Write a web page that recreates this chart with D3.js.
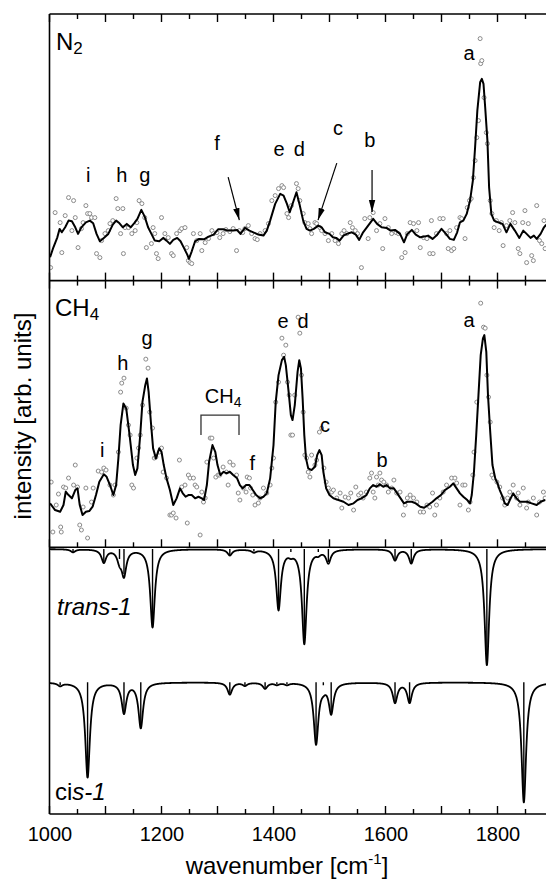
<!DOCTYPE html>
<html><head><meta charset="utf-8">
<script src="https://cdn.jsdelivr.net/npm/d3@7"></script>
<style>
html,body{margin:0;padding:0;background:#fff;}
svg{display:block;}
text{font-family:Arial,"Liberation Sans",sans-serif;fill:#000;}
</style></head><body>
<svg id="c" width="546" height="888"></svg>
<script>
// ---------------- DATA ----------------
// x axis
const tickLabels = [1000, 1200, 1400, 1600, 1800];
const majorTicks = [1000, 1100, 1200, 1300, 1400, 1500, 1600, 1700, 1800, 1900];
const minorTicks = [1050, 1150, 1250, 1350, 1450, 1550, 1650, 1750, 1850];

// N2 matrix: smoothed spectrum [wavenumber, intensity]
const n2Line = [[1001,2.33],[1007,3.33],[1014,4.33],[1018,5.17],[1022,4.83],[1028,5.33],[1034,6.0],[1040,5.93],[1046,5.33],[1051,4.67],[1057,5.33],[1065,5.83],[1072,6.0],[1078,5.73],[1084,4.67],[1090,3.93],[1097,4.27],[1105,4.67],[1113,5.6],[1119,6.0],[1125,5.73],[1131,5.33],[1138,5.67],[1145,5.33],[1151,5.73],[1157,6.17],[1164,7.07],[1170,6.4],[1176,5.33],[1182,4.67],[1188,4.0],[1196,3.93],[1203,4.27],[1209,4.0],[1215,3.67],[1221,4.07],[1228,4.27],[1234,3.93],[1240,3.27],[1246,2.6],[1249,2.17],[1254,2.93],[1260,3.93],[1267,4.17],[1276,4.13],[1284,4.4],[1293,4.6],[1301,5.13],[1310,5.13],[1319,5.0],[1328,5.0],[1335,5.07],[1341,4.67],[1349,5.27],[1357,5.0],[1364,4.83],[1373,4.6],[1382,4.5],[1388,5.0],[1394,6.0],[1403,7.67],[1412,8.67],[1418,8.5],[1424,7.67],[1429,6.83],[1435,7.83],[1441,8.83],[1447,7.5],[1453,6.0],[1459,5.17],[1465,5.0],[1472,5.17],[1480,5.5],[1486,5.33],[1492,4.83],[1500,4.67],[1506,4.33],[1512,4.27],[1518,4.0],[1525,4.5],[1531,4.67],[1540,4.83],[1547,4.6],[1553,4.07],[1560,4.83],[1569,5.5],[1578,6.17],[1585,5.67],[1593,5.33],[1602,5.27],[1609,5.0],[1617,5.07],[1626,4.67],[1633,3.83],[1639,4.67],[1647,5.07],[1654,4.6],[1662,4.33],[1669,4.4],[1676,4.5],[1684,4.17],[1691,4.5],[1700,5.17],[1708,4.67],[1715,4.17],[1722,4.07],[1728,4.83],[1733,5.83],[1739,6.0],[1745,6.67],[1751,8.0],[1756,10.0],[1760,13.33],[1764,17.0],[1769,19.83],[1772,20.17],[1775,19.67],[1778,17.33],[1782,14.0],[1785,9.33],[1789,6.67],[1794,6.0],[1801,5.83],[1809,5.67],[1816,4.83],[1823,5.67],[1831,5.0],[1839,4.27],[1846,5.0],[1852,4.67],[1859,4.27],[1865,4.5],[1870,4.17],[1877,4.67],[1883,5.33],[1887,5.6]];

// N2 matrix: raw data points
const n2Points = [[1002,1.3],[1010,6.8],[1019,5.8],[1022,2.8],[1028,6.5],[1034,8.3],[1043,8.0],[1040,5.0],[1046,6.3],[1051,3.3],[1057,5.2],[1060,5.8],[1065,7.5],[1068,6.7],[1072,6.7],[1075,6.3],[1081,6.3],[1084,2.7],[1090,2.3],[1093,4.0],[1099,4.7],[1105,5.0],[1108,5.7],[1113,6.0],[1119,8.2],[1122,7.2],[1127,4.7],[1131,7.2],[1132,2.7],[1135,5.3],[1141,5.3],[1147,4.7],[1153,5.0],[1156,5.8],[1160,8.0],[1165,7.7],[1170,6.3],[1173,3.3],[1182,3.7],[1185,5.3],[1188,4.7],[1191,2.7],[1194,2.2],[1200,6.3],[1206,4.7],[1212,4.3],[1218,2.7],[1221,2.5],[1227,4.7],[1233,5.0],[1236,5.2],[1242,5.3],[1245,3.3],[1248,2.0],[1251,1.8],[1254,1.7],[1257,4.7],[1263,4.0],[1269,4.7],[1272,3.0],[1278,3.8],[1284,4.2],[1290,5.0],[1293,4.7],[1299,4.8],[1304,4.3],[1310,4.7],[1315,5.1],[1322,4.9],[1328,5.2],[1334,3.0],[1339,5.0],[1345,4.8],[1349,5.2],[1355,5.5],[1361,4.7],[1367,4.2],[1371,4.1],[1376,4.7],[1385,5.0],[1391,5.7],[1397,8.0],[1403,8.5],[1409,9.2],[1415,9.5],[1418,9.3],[1424,6.7],[1427,6.3],[1432,7.5],[1441,9.7],[1444,9.2],[1447,8.0],[1453,6.7],[1456,5.8],[1462,5.7],[1465,5.2],[1468,4.7],[1474,5.8],[1477,5.7],[1483,5.3],[1486,5.0],[1492,4.7],[1498,4.0],[1504,4.7],[1510,4.0],[1516,3.7],[1522,4.7],[1526,5.0],[1531,4.7],[1537,5.8],[1541,5.3],[1546,5.0],[1550,4.7],[1557,1.3],[1563,6.2],[1569,4.2],[1572,6.3],[1578,6.8],[1584,5.0],[1590,5.7],[1595,3.2],[1599,6.2],[1605,5.3],[1611,4.7],[1619,4.8],[1623,4.7],[1629,2.3],[1635,2.8],[1639,4.7],[1644,5.8],[1650,5.7],[1656,5.0],[1659,5.8],[1662,3.3],[1668,4.3],[1674,4.2],[1679,2.7],[1682,6.0],[1685,2.7],[1691,4.7],[1697,6.2],[1703,6.2],[1709,4.7],[1712,3.2],[1715,5.0],[1718,3.0],[1722,3.2],[1727,5.3],[1733,6.3],[1736,6.2],[1742,4.2],[1746,7.3],[1750,8.0],[1753,8.2],[1757,10.3],[1760,12.0],[1763,14.3],[1766,16.0],[1769,24.2],[1770,21.7],[1772,22.0],[1776,18.3],[1780,14.8],[1782,13.7],[1787,8.0],[1790,6.7],[1794,5.3],[1798,6.0],[1803,5.0],[1807,5.8],[1810,3.5],[1816,5.5],[1822,6.0],[1827,6.8],[1831,5.8],[1837,3.2],[1840,2.7],[1845,5.8],[1849,7.0],[1852,1.8],[1855,5.7],[1861,2.5],[1864,2.0],[1870,7.5],[1875,4.0],[1879,3.7],[1883,6.0],[1885,3.2]];

// CH4 matrix: smoothed spectrum
const ch4Line = [[1001,4.37],[1010,3.7],[1019,3.53],[1025,4.2],[1029,5.53],[1034,5.2],[1040,4.87],[1046,5.7],[1050,5.87],[1054,4.2],[1059,3.2],[1065,3.53],[1071,3.6],[1077,4.03],[1083,5.2],[1089,6.53],[1097,7.27],[1102,7.03],[1108,6.2],[1114,5.2],[1119,6.2],[1123,8.87],[1127,12.2],[1132,14.37],[1137,13.87],[1143,11.2],[1149,8.2],[1153,7.2],[1157,7.87],[1162,11.2],[1166,14.53],[1171,16.2],[1174,16.87],[1177,15.53],[1181,12.53],[1185,9.87],[1190,8.87],[1196,9.87],[1200,9.53],[1204,8.2],[1209,6.87],[1215,5.7],[1221,4.2],[1227,4.87],[1233,5.87],[1238,5.37],[1243,5.03],[1248,5.2],[1254,5.2],[1260,4.87],[1266,5.03],[1272,4.87],[1276,4.7],[1281,6.2],[1285,8.53],[1291,10.2],[1296,9.53],[1300,8.2],[1305,7.2],[1311,7.53],[1316,7.37],[1322,7.53],[1328,7.2],[1335,6.87],[1340,6.2],[1345,5.87],[1351,6.2],[1357,6.2],[1363,5.7],[1369,5.2],[1376,4.87],[1382,5.03],[1388,5.37],[1394,6.87],[1400,10.2],[1404,14.53],[1409,17.2],[1415,18.7],[1419,19.03],[1422,18.2],[1427,15.53],[1431,13.2],[1434,12.7],[1438,14.2],[1443,17.53],[1446,18.7],[1449,17.87],[1452,14.87],[1455,11.2],[1458,8.87],[1462,7.87],[1468,7.7],[1474,8.03],[1478,9.2],[1482,9.7],[1486,9.2],[1489,7.53],[1494,5.87],[1500,5.2],[1507,4.87],[1516,4.7],[1525,4.53],[1534,4.2],[1543,4.37],[1550,4.7],[1557,4.87],[1566,5.2],[1572,5.87],[1578,6.2],[1584,6.03],[1590,6.27],[1596,6.03],[1602,6.2],[1608,5.87],[1615,5.87],[1621,5.37],[1627,4.87],[1633,4.37],[1639,4.53],[1647,4.53],[1654,4.37],[1662,4.03],[1669,3.93],[1676,4.2],[1684,4.53],[1691,4.87],[1699,5.2],[1706,5.7],[1715,6.03],[1721,6.37],[1727,5.87],[1733,5.37],[1739,5.03],[1746,4.7],[1751,4.37],[1754,5.2],[1758,7.53],[1762,11.2],[1766,15.2],[1770,19.2],[1774,20.87],[1776.5,21.2],[1780,19.53],[1783,15.2],[1787,11.53],[1791,8.2],[1796,6.87],[1800,6.37],[1804,5.7],[1809,5.03],[1813,4.37],[1818,4.2],[1822,4.7],[1828,5.37],[1834,4.87],[1840,4.53],[1846,4.53],[1853,4.53],[1861,4.37],[1870,4.2],[1877,4.53],[1885,4.7]];

// CH4 matrix: raw data points
const ch4Points = [[1003,6.5],[1006,1.5],[1012,4.2],[1016,5.3],[1020,2.0],[1021,1.5],[1025,6.0],[1029,5.9],[1034,6.9],[1043,6.2],[1046,8.2],[1050,6.0],[1054,2.2],[1057,1.7],[1060,4.0],[1065,5.9],[1068,0.9],[1075,4.5],[1078,5.9],[1087,7.6],[1093,7.5],[1097,7.9],[1101,7.7],[1108,6.2],[1114,5.2],[1117,6.2],[1123,9.5],[1127,15.5],[1129,16.4],[1133,16.9],[1137,13.9],[1141,12.2],[1144,11.2],[1147,6.2],[1150,5.9],[1156,8.9],[1159,9.9],[1162,11.2],[1166,14.2],[1172,18.8],[1176,17.9],[1179,13.5],[1184,11.9],[1187,8.9],[1190,9.0],[1196,9.5],[1200,9.9],[1203,7.5],[1209,6.9],[1215,3.2],[1218,3.2],[1221,3.4],[1226,2.9],[1232,8.7],[1236,6.0],[1242,6.2],[1246,2.4],[1248,7.2],[1251,6.9],[1257,6.9],[1260,6.2],[1263,6.0],[1269,1.2],[1272,5.5],[1275,4.5],[1278,4.9],[1281,8.5],[1287,10.9],[1290,10.9],[1293,8.9],[1297,7.0],[1301,7.2],[1304,7.2],[1310,8.0],[1316,7.5],[1319,6.2],[1322,8.5],[1328,8.2],[1334,7.2],[1337,5.4],[1340,4.7],[1346,5.9],[1351,5.5],[1353,7.0],[1357,6.9],[1359,5.9],[1363,5.2],[1367,4.2],[1373,4.4],[1376,4.9],[1382,5.9],[1388,5.4],[1394,6.2],[1397,7.9],[1400,8.9],[1404,14.5],[1409,16.5],[1415,20.9],[1418,19.2],[1422,20.2],[1425,16.5],[1428,15.2],[1431,11.2],[1434,11.2],[1438,15.2],[1444,23.0],[1447,21.4],[1450,17.2],[1453,13.5],[1456,9.2],[1459,8.9],[1462,7.5],[1465,7.0],[1468,9.2],[1474,8.2],[1477,8.7],[1482,11.5],[1486,11.9],[1490,7.9],[1494,6.5],[1498,5.9],[1504,5.5],[1507,5.7],[1513,4.9],[1519,5.4],[1522,3.9],[1528,5.0],[1534,4.9],[1538,5.4],[1543,3.7],[1547,6.0],[1552,5.2],[1556,5.4],[1560,4.9],[1566,5.5],[1572,6.9],[1575,7.4],[1578,5.5],[1581,4.9],[1584,7.0],[1587,6.2],[1590,7.4],[1593,6.7],[1597,6.5],[1602,6.2],[1605,5.5],[1611,5.9],[1615,6.7],[1620,5.4],[1626,5.5],[1632,3.2],[1635,4.2],[1639,4.9],[1644,5.2],[1650,4.9],[1656,4.5],[1662,3.5],[1668,3.5],[1674,4.2],[1679,4.0],[1684,5.4],[1688,3.2],[1691,4.2],[1697,4.9],[1703,5.5],[1709,6.2],[1718,6.9],[1724,6.9],[1727,6.4],[1733,4.2],[1738,6.2],[1742,6.2],[1748,3.7],[1751,4.5],[1756,7.2],[1758,9.5],[1763,14.5],[1770,24.4],[1775,22.0],[1778,21.9],[1781,17.2],[1784,15.0],[1787,12.5],[1790,7.2],[1793,6.9],[1799,6.5],[1804,6.0],[1809,4.9],[1813,4.2],[1818,4.9],[1822,5.5],[1828,6.2],[1834,4.9],[1837,5.4],[1840,4.2],[1846,5.9],[1852,3.9],[1855,4.5],[1864,4.9],[1870,3.2],[1875,4.5],[1882,5.5],[1885,4.9]];

// computed stick spectra [wavenumber, intensity]
const transPeaks = [[1042,0.3],[1097,1.3],[1125,1.0],[1133,2.5],[1184,7.8],[1322,0.6],[1365,0.25],[1409,6.0],[1431,0.3],[1455,9.4],[1480,0.3],[1498,1.3],[1617,1.1],[1646,1.4],[1781,11.6]];
const cisPeaks = [[1019,0.3],[1068,9.5],[1133,3.0],[1163,4.5],[1322,1.2],[1349,0.3],[1385,0.6],[1406,0.2],[1424,0.2],[1476,6.1],[1489,0.3],[1503,3.0],[1617,2.0],[1643,2.0],[1847,12.0]];
const lorentzHalfWidth = 5; // cm-1, broadening of computed sticks

// peak labels [label, wavenumber, intensity]
const n2Labels = [["i",1069,9.85],["h",1129,9.85],["g",1170,9.85],["f",1299,13.05],["e",1410,12.45],["d",1446,12.45],["c",1515,14.55],["b",1572,13.35],["a",1749,22.05]];
const n2Arrows = [[1319,10.35,1339,6.05],[1513,11.75,1479.5,6.05],[1576,11.05,1576,6.85]];
const ch4Labels = [["i",1094,9.0],["h",1131,17.7],["g",1174,20.2],["f",1362,7.7],["e",1417,21.9],["d",1453,21.9],["c",1492,11.5],["b",1594,8.0],["a",1749,22.0]];
const ch4Bracket = [1270.5, 1338.4, 11.2, 13.2];
const ch4BracketLabel = [1310, 14.4];

// ---------------- CHART ----------------
const svg = d3.select("#c");
const L = 49.5, R = 553.5, T = 14, S1 = 280.6, S2 = 547.3, B = 814;
const x = d3.scaleLinear().domain([1000, 1900]).range([L, R]);
const yN2 = d3.scaleLinear().domain([0, 26.66]).range([S1, T]);
const yCH4 = d3.scaleLinear().domain([0, 26.66]).range([547, S1]);
const yCalc = d3.scaleLinear().domain([0, 26.67]).range([B, S2]);
const transOffset = 26.5, cisOffset = 13.17;

const defs = svg.append("defs");
[["cpN2", T, S1], ["cpCH4", S1, S2], ["cpCalc", S2, B]].forEach(([id, a, b]) => {
  defs.append("clipPath").attr("id", id).append("rect")
    .attr("x", L).attr("y", a).attr("width", R - L).attr("height", b - a);
});
defs.append("marker").attr("id", "arr").attr("viewBox", "0 0 12 8")
  .attr("refX", 12).attr("refY", 4).attr("markerWidth", 12).attr("markerHeight", 8)
  .attr("markerUnits", "userSpaceOnUse").attr("orient", "auto")
  .append("path").attr("d", "M0,0.8 L12,4 L0,7.2 Z").attr("fill", "#000");

const line = (ys) => d3.line().x(d => x(d[0])).y(d => ys(d[1]));

// N2 panel
const gN2 = svg.append("g").attr("clip-path", "url(#cpN2)");
gN2.selectAll("circle").data(n2Points).join("circle")
  .attr("cx", d => x(d[0])).attr("cy", d => yN2(d[1])).attr("r", 2)
  .attr("fill", "#fff").attr("stroke", "#8a8a8a").attr("stroke-width", 1);
gN2.append("path").datum(n2Line).attr("d", line(yN2))
  .attr("fill", "none").attr("stroke", "#000").attr("stroke-width", 2).attr("stroke-linejoin", "round");

// CH4 panel
const gCH4 = svg.append("g").attr("clip-path", "url(#cpCH4)");
gCH4.selectAll("circle").data(ch4Points).join("circle")
  .attr("cx", d => x(d[0])).attr("cy", d => yCH4(d[1])).attr("r", 2)
  .attr("fill", "#fff").attr("stroke", "#8a8a8a").attr("stroke-width", 1);
gCH4.append("path").datum(ch4Line).attr("d", line(yCH4))
  .attr("fill", "none").attr("stroke", "#000").attr("stroke-width", 2).attr("stroke-linejoin", "round");

// computed spectra: sticks broadened with Lorentzians
const grid = d3.range(1000, 1900.01, 0.25);
function broaden(peaks) {
  const g2 = lorentzHalfWidth * lorentzHalfWidth;
  return grid.map(w => [w, d3.sum(peaks, p => p[1] * g2 / ((w - p[0]) * (w - p[0]) + g2))]);
}
const gCalc = svg.append("g").attr("clip-path", "url(#cpCalc)");
[[transPeaks, transOffset], [cisPeaks, cisOffset]].forEach(([pk, off]) => {
  gCalc.append("g").selectAll("line").data(pk).join("line")
    .attr("x1", d => x(d[0])).attr("x2", d => x(d[0]))
    .attr("y1", yCalc(off)).attr("y2", d => yCalc(off - d[1]))
    .attr("stroke", "#000").attr("stroke-width", 1.4);
  gCalc.append("path").datum(broaden(pk))
    .attr("d", d3.line().x(d => x(d[0])).y(d => yCalc(off - d[1])))
    .attr("fill", "none").attr("stroke", "#000").attr("stroke-width", 1.8).attr("stroke-linejoin", "round");
});

// frame
const frame = svg.append("g").attr("stroke", "#000").attr("stroke-width", 1.6);
frame.append("line").attr("x1", L).attr("x2", L).attr("y1", T).attr("y2", B);
[T, S1, S2, B].forEach(yy => frame.append("line").attr("x1", L).attr("x2", 546).attr("y1", yy).attr("y2", yy));

// ticks
const tk = svg.append("g").attr("stroke", "#000").attr("stroke-width", 1.4);
function ticks(yy, dir) {
  majorTicks.forEach(t => tk.append("line").attr("x1", x(t)).attr("x2", x(t)).attr("y1", yy).attr("y2", yy + dir * 8));
  minorTicks.forEach(t => tk.append("line").attr("x1", x(t)).attr("x2", x(t)).attr("y1", yy).attr("y2", yy + dir * 5));
}
ticks(T, 1); ticks(S1, -1); ticks(S1, 1); ticks(S2, -1); ticks(B, -1);

// x tick labels via axis
const ax = svg.append("g").attr("transform", `translate(0,${B})`)
  .call(d3.axisBottom(x).tickValues(tickLabels).tickSize(0).tickPadding(13).tickFormat(d3.format("d")));
ax.select(".domain").remove();
ax.selectAll("text").attr("font-size", 20).attr("font-family", "Arial, 'Liberation Sans', sans-serif").attr("fill", "#000");

// axis titles
const xt = svg.append("text").attr("x", 287).attr("y", 874).attr("text-anchor", "middle").attr("font-size", 24);
xt.append("tspan").text("wavenumber [cm");
xt.append("tspan").attr("font-size", 15).attr("dy", -10).text("-1");
xt.append("tspan").attr("dy", 10).text("]");
svg.append("text").attr("transform", "translate(31,416) rotate(-90)").attr("text-anchor", "middle")
  .attr("font-size", 24).text("intensity [arb. units]");

// panel labels
const n2t = svg.append("text").attr("x", 56).attr("y", 50).attr("font-size", 24);
n2t.append("tspan").text("N");
n2t.append("tspan").attr("font-size", 17).attr("dy", 4).text("2");
const ch4t = svg.append("text").attr("x", 55).attr("y", 316).attr("font-size", 24);
ch4t.append("tspan").text("CH");
ch4t.append("tspan").attr("font-size", 17).attr("dy", 4).text("4");
svg.append("text").attr("x", 57).attr("y", 615).attr("font-size", 24).attr("font-style", "italic").text("trans-1");
const cist = svg.append("text").attr("x", 55).attr("y", 800).attr("font-size", 24);
cist.append("tspan").text("ci");
cist.append("tspan").attr("font-style", "italic").text("s-1");

// peak letters
svg.append("g").selectAll("text").data(n2Labels).join("text")
  .attr("x", d => x(d[1])).attr("y", d => yN2(d[2])).attr("text-anchor", "middle").attr("font-size", 20).text(d => d[0]);
svg.append("g").selectAll("text").data(ch4Labels).join("text")
  .attr("x", d => x(d[1])).attr("y", d => yCH4(d[2])).attr("text-anchor", "middle").attr("font-size", 20).text(d => d[0]);

// arrows
svg.append("g").selectAll("line").data(n2Arrows).join("line")
  .attr("x1", d => x(d[0])).attr("y1", d => yN2(d[1])).attr("x2", d => x(d[2])).attr("y2", d => yN2(d[3]))
  .attr("stroke", "#000").attr("stroke-width", 1.2).attr("marker-end", "url(#arr)");

// CH4 bracket
const [b0, b1, bl, bh] = ch4Bracket;
svg.append("path")
  .attr("d", `M${x(b0)},${yCH4(bl)}V${yCH4(bh)}H${x(b1)}V${yCH4(bl)}`)
  .attr("fill", "none").attr("stroke", "#333").attr("stroke-width", 1.3);
const bt = svg.append("text").attr("x", x(ch4BracketLabel[0])).attr("y", yCH4(ch4BracketLabel[1]))
  .attr("text-anchor", "middle").attr("font-size", 20);
bt.append("tspan").text("CH");
bt.append("tspan").attr("font-size", 14).attr("dy", 4).text("4");
</script>
</body></html>
